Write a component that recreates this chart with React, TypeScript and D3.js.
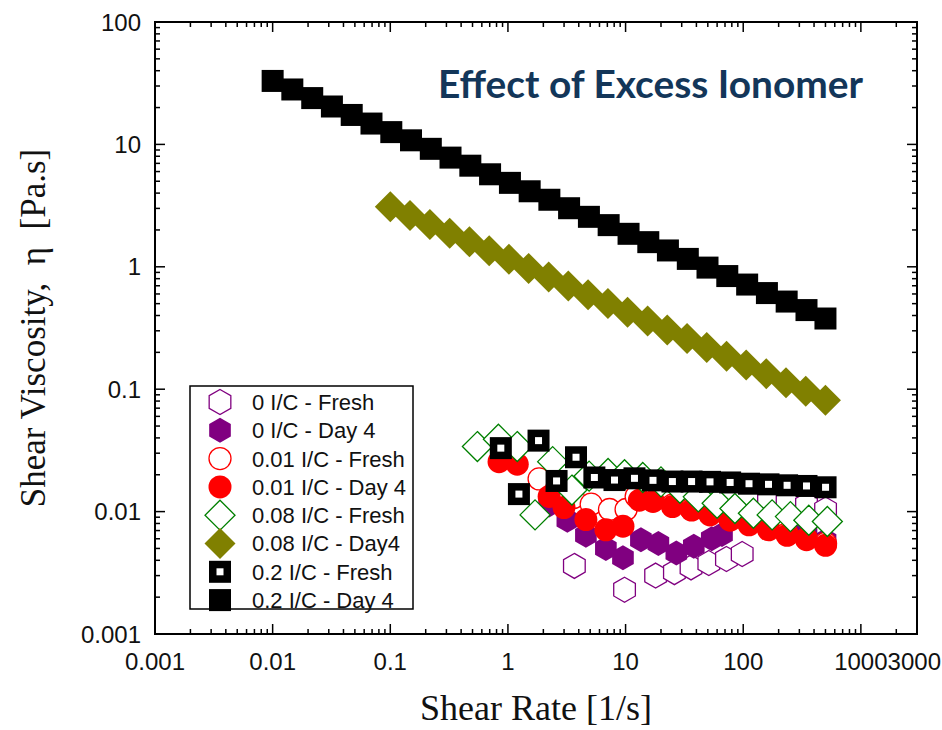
import React from 'react';
import * as d3 from 'd3';

const W = 942;
const H = 730;
const PLOT = { left: 155, right: 917, top: 22, bottom: 634 };

const xTickValues = [0.001, 0.01, 0.1, 1, 10, 100, 1000, 3000];
const xTickLabels = ['0.001', '0.01', '0.1', '1', '10', '100', '1000', '3000'];
const yTickValues = [0.001, 0.01, 0.1, 1, 10, 100];
const yTickLabels = ['0.001', '0.01', '0.1', '1', '10', '100'];

const seriesLabels = [
  '0 I/C - Fresh',
  '0 I/C - Day 4',
  '0.01 I/C - Fresh',
  '0.01 I/C - Day 4',
  '0.08 I/C - Fresh',
  '0.08 I/C - Day4',
  '0.2 I/C - Fresh',
  '0.2 I/C - Day 4',
];

// 0 I/C - Fresh
const x0Fresh = [3.67, 9.8, 18, 26, 36, 51, 72, 98, 164, 236, 345, 501];
const y0Fresh = [0.0036, 0.0023, 0.003, 0.0032, 0.0035, 0.0038, 0.0041, 0.0045, 0.0128, 0.0122, 0.0114, 0.0104];
// 0 I/C - Day 4
const x0Day4 = [2.24, 3.2, 4.6, 6.8, 9.5, 13.5, 19, 27, 38, 54, 66, 345, 501];
const y0Day4 = [0.0113, 0.0085, 0.0064, 0.005, 0.0042, 0.0059, 0.0055, 0.0046, 0.0052, 0.006, 0.0065, 0.0068, 0.0058];
// 0.01 I/C - Fresh
const x001Fresh = [1.84, 2.6, 3.6, 5.1, 7.3, 10.1, 12.3, 17, 25, 36, 52, 77, 112, 164, 236, 345, 501];
const y001Fresh = [0.0185, 0.0155, 0.013, 0.0115, 0.0104, 0.0104, 0.0133, 0.0124, 0.0113, 0.0105, 0.0096, 0.0087, 0.008, 0.0073, 0.0066, 0.006, 0.0055];
// 0.01 I/C - Day 4
const x001Day4 = [0.84, 1.2, 2.24, 3.0, 4.6, 6.8, 9.5, 13.1, 17.1, 25, 36.4, 52.2, 77.4, 112, 164, 236, 345, 501];
const y001Day4 = [0.0256, 0.0244, 0.0133, 0.0108, 0.0086, 0.0071, 0.0076, 0.0124, 0.0121, 0.011, 0.0103, 0.0094, 0.0085, 0.0078, 0.0071, 0.0064, 0.0059, 0.0053];
// 0.08 I/C - Fresh
const x008Fresh = [0.55, 0.83, 1.2, 1.7, 2.4, 3.5, 4.9, 7.1, 9.8, 14, 20, 29, 41.5, 60, 85, 122, 176, 252, 361, 519];
const y008Fresh = [0.034, 0.039, 0.034, 0.0094, 0.0256, 0.015, 0.0195, 0.0205, 0.02, 0.019, 0.0175, 0.0155, 0.0132, 0.0117, 0.0106, 0.0097, 0.0094, 0.0091, 0.0085, 0.0083];
// 0.08 I/C - Day4
const x008Day4 = [0.1, 0.147, 0.217, 0.32, 0.471, 0.693, 1.02, 1.5, 2.22, 3.26, 4.8, 7.08, 10.4, 15.4, 22.6, 33.3, 49, 72.2, 106, 157, 231, 340, 500];
const y008Day4 = [3.09, 2.62, 2.22, 1.88, 1.6, 1.35, 1.15, 0.97, 0.824, 0.698, 0.592, 0.501, 0.425, 0.36, 0.305, 0.259, 0.219, 0.186, 0.158, 0.134, 0.113, 0.096, 0.0814];
// 0.2 I/C - Fresh
const x02Fresh = [0.87, 1.24, 1.82, 2.59, 3.79, 5.43, 8.05, 11.9, 17.1, 25, 36.4, 52.2, 77.4, 112, 164, 236, 345, 501];
const y02Fresh = [0.033, 0.0139, 0.038, 0.0178, 0.0278, 0.019, 0.0181, 0.0187, 0.018, 0.0176, 0.0176, 0.0175, 0.0173, 0.0169, 0.0167, 0.0164, 0.0162, 0.0158];
// 0.2 I/C - Day 4
const x02Day4 = [0.01, 0.0147, 0.0217, 0.0319, 0.047, 0.0692, 0.102, 0.15, 0.221, 0.325, 0.479, 0.705, 1.04, 1.53, 2.25, 3.31, 4.88, 7.18, 10.6, 15.6, 22.9, 33.8, 49.7, 73.2, 108, 159, 234, 345, 500];
const y02Day4 = [33.0, 28.1, 23.9, 20.4, 17.4, 14.8, 12.6, 10.8, 9.2, 7.8, 6.7, 5.7, 4.85, 4.14, 3.53, 3.01, 2.56, 2.19, 1.86, 1.59, 1.36, 1.16, 0.985, 0.84, 0.716, 0.61, 0.52, 0.443, 0.378];

type Shape = 'hexOpen' | 'hexFilled' | 'circleOpen' | 'circleFilled' | 'diamondOpen' | 'diamondFilled' | 'squareOpen' | 'squareFilled';

const seriesList: { label: string; xs: number[]; ys: number[]; shape: Shape; color: string }[] = [
  { label: seriesLabels[0], xs: x0Fresh, ys: y0Fresh, shape: 'hexOpen', color: '#800080' },
  { label: seriesLabels[1], xs: x0Day4, ys: y0Day4, shape: 'hexFilled', color: '#800080' },
  { label: seriesLabels[2], xs: x001Fresh, ys: y001Fresh, shape: 'circleOpen', color: '#ff0000' },
  { label: seriesLabels[3], xs: x001Day4, ys: y001Day4, shape: 'circleFilled', color: '#ff0000' },
  { label: seriesLabels[4], xs: x008Fresh, ys: y008Fresh, shape: 'diamondOpen', color: '#008000' },
  { label: seriesLabels[5], xs: x008Day4, ys: y008Day4, shape: 'diamondFilled', color: '#808000' },
  { label: seriesLabels[6], xs: x02Fresh, ys: y02Fresh, shape: 'squareOpen', color: '#000000' },
  { label: seriesLabels[7], xs: x02Day4, ys: y02Day4, shape: 'squareFilled', color: '#000000' },
];

function hexPath(r: number) {
  const pts: string[] = [];
  for (let i = 0; i < 6; i++) {
    const a = (-90 + i * 60) * Math.PI / 180;
    pts.push(`${(r * Math.cos(a)).toFixed(2)},${(r * Math.sin(a)).toFixed(2)}`);
  }
  return 'M' + pts.join('L') + 'Z';
}
function diamondPath(h: number) {
  return `M0,${-h}L${h},0L0,${h}L${-h},0Z`;
}

function Marker({ shape, color, cx, cy }: { shape: Shape; color: string; cx: number; cy: number }) {
  const t = `translate(${cx},${cy})`;
  switch (shape) {
    case 'hexOpen':
      return <path transform={t} d={hexPath(12.5)} fill="#fff" stroke={color} strokeWidth={1.3} />;
    case 'hexFilled':
      return <path transform={t} d={hexPath(12.5)} fill={color} />;
    case 'circleOpen':
      return <circle cx={cx} cy={cy} r={11} fill="#fff" stroke={color} strokeWidth={1.3} />;
    case 'circleFilled':
      return <circle cx={cx} cy={cy} r={11.5} fill={color} />;
    case 'diamondOpen':
      return <path transform={t} d={diamondPath(15)} fill="#fff" stroke={color} strokeWidth={1.3} />;
    case 'diamondFilled':
      return <path transform={t} d={diamondPath(15.5)} fill={color} />;
    case 'squareOpen':
      return (
        <g transform={t}>
          <rect x={-11} y={-11} width={22} height={22} fill={color} />
          <rect x={-3.5} y={-3.5} width={7} height={7} fill="#fff" />
        </g>
      );
    case 'squareFilled':
      return <rect x={cx - 11} y={cy - 11} width={22} height={22} fill={color} />;
  }
  return null;
}

export default function App() {
  const x = d3.scaleLog().domain([0.001, 3000]).range([PLOT.left, PLOT.right]);
  const y = d3.scaleLog().domain([0.001, 100]).range([PLOT.bottom, PLOT.top]);

  const isMajor = (v: number) => Math.abs(Math.log10(v) - Math.round(Math.log10(v))) < 1e-6;
  const xTicks = x.ticks();
  const yTicks = y.ticks();
  const MAJ = 10;
  const MIN = 5;
  const tickFont = "'Liberation Sans', Arial, sans-serif";

  const legendX = 190;
  const legendY = 386;
  const legendW = 223;
  const legendH = 223;
  const rowH = 28.3;

  return (
    <svg width={W} height={H} style={{ position: 'absolute', left: 0, top: 0, background: '#fff' }}>
      <rect x={0} y={0} width={W} height={H} fill="#fff" />

      {/* series */}
      <g>
        {seriesList.map((s, si) => (
          <g key={si}>
            {s.xs.map((xv, i) => (
              <Marker key={i} shape={s.shape} color={s.color} cx={x(xv)} cy={y(s.ys[i])} />
            ))}
          </g>
        ))}
      </g>

      {/* ticks */}
      <g stroke="#000" strokeWidth={1.5}>
        {xTicks.map((v, i) => {
          const px = x(v);
          const len = isMajor(v) ? MAJ : MIN;
          return (
            <g key={'xt' + i}>
              <line x1={px} x2={px} y1={PLOT.bottom} y2={PLOT.bottom - len} />
              <line x1={px} x2={px} y1={PLOT.top} y2={PLOT.top + len} />
            </g>
          );
        })}
        {yTicks.map((v, i) => {
          const py = y(v);
          const len = isMajor(v) ? MAJ : MIN;
          return (
            <g key={'yt' + i}>
              <line x1={PLOT.left} x2={PLOT.left + len} y1={py} y2={py} />
              <line x1={PLOT.right} x2={PLOT.right - len} y1={py} y2={py} />
            </g>
          );
        })}
      </g>

      {/* frame */}
      <rect x={PLOT.left} y={PLOT.top} width={PLOT.right - PLOT.left} height={PLOT.bottom - PLOT.top}
        fill="none" stroke="#000" strokeWidth={2} />

      {/* tick labels */}
      <g fontFamily={tickFont} fontSize={24} fill="#111">
        {xTickValues.map((v, i) => {
          const last = i === xTickValues.length - 1;
          return (
            <text key={'xl' + i} x={last ? W - 1 : x(v)} y={670} textAnchor={last ? 'end' : 'middle'}>{xTickLabels[i]}</text>
          );
        })}
        {yTickValues.map((v, i) => (
          <text key={'yl' + i} x={141} y={y(v)} dy="0.36em" textAnchor="end">{yTickLabels[i]}</text>
        ))}
      </g>

      {/* axis titles */}
      <text x={(PLOT.left + PLOT.right) / 2} y={720} textAnchor="middle"
        fontFamily="'Liberation Serif', 'Times New Roman', serif" fontSize={36} fill="#111">Shear Rate [1/s]</text>
      <text transform={`translate(45,${(PLOT.top + PLOT.bottom) / 2}) rotate(-90)`} textAnchor="middle"
        fontFamily="'Liberation Serif', 'Times New Roman', serif" fontSize={35} fill="#111"
        style={{ whiteSpace: 'pre' }}>{'Shear Viscosity,  \u03b7  [Pa.s]'}</text>

      {/* title */}
      <text x={438} y={98} fontFamily="Lato, 'Open Sans', sans-serif" fontWeight="bold" fontSize={38}
        fill="#133659" textLength={425} lengthAdjust="spacingAndGlyphs">Effect of Excess Ionomer</text>

      {/* legend */}
      <rect x={legendX} y={legendY} width={legendW} height={legendH} fill="#fff" stroke="#000" strokeWidth={1.5} />
      {seriesList.map((s, i) => {
        const cy = legendY + 16 + i * rowH;
        return (
          <g key={'lg' + i}>
            <Marker shape={s.shape} color={s.color} cx={220} cy={cy} />
            <text x={252} y={cy} dy="0.36em" fontFamily={tickFont} fontSize={22} fill="#111">{s.label}</text>
          </g>
        );
      })}
    </svg>
  );
}
